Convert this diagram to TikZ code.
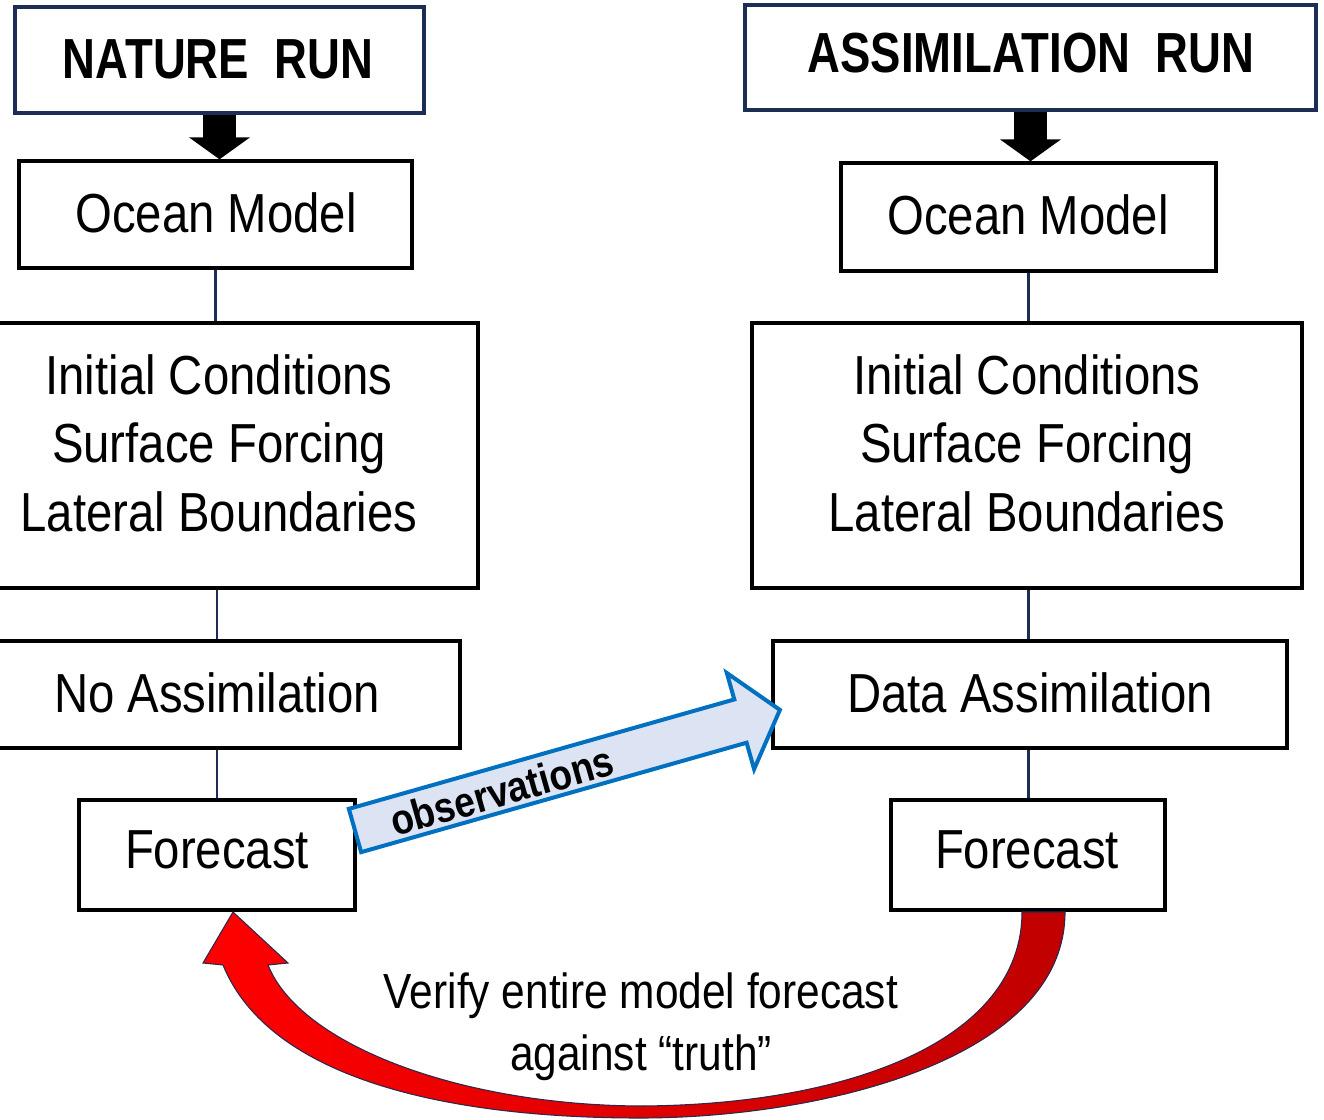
\documentclass[tikz,border=0pt]{standalone}
\usepackage{fontspec}
\setmainfont{Liberation Sans}
\newfontfamily\regf[FakeStretch=0.86]{Liberation Sans}
\newfontfamily\titlef[FakeStretch=0.805]{Liberation Sans}
\newfontfamily\obsf[FakeStretch=0.87]{Liberation Sans}
\newfontfamily\verf[FakeStretch=0.86]{Liberation Sans}
\usetikzlibrary{fit,arrows.meta}
\definecolor{navy}{RGB}{28,46,84}
\definecolor{bblue}{RGB}{0,112,192}
\definecolor{lblue}{RGB}{220,228,243}
\definecolor{rred}{RGB}{255,0,0}
\definecolor{dred}{RGB}{192,0,0}
\definecolor{outl}{RGB}{45,40,75}
\begin{document}
\begin{tikzpicture}[x=0.75pt,y=-0.75pt,
  titlebox/.style={draw=navy, line width=2.5pt, inner sep=0pt},
  box/.style={draw=black, line width=2.5pt, inner sep=0pt},
  link/.style={draw=navy, line width=1.7pt},
  bigarrow/.style={draw=black, line width=24.75pt, -{Triangle[width=45pt,length=16.5pt]}},
  txt/.style={font=\regf\fontsize{41.25}{51.4}\selectfont, align=center, inner sep=0pt},
  ttl/.style={font=\titlef\bfseries\fontsize{42.4}{50}\selectfont, inner sep=0pt},
  obs/.style={font=\obsf\bfseries\fontsize{31.9}{36}\selectfont, inner sep=0pt},
  ver/.style={font=\verf\fontsize{37}{46.5}\selectfont, align=center, inner sep=0pt}]
\useasboundingbox (0,0) rectangle (1324,1120);

% ---------- left column: nature run
\node[titlebox, fit={(15,7) (424,113)}] (nr) {};
\node[box, fit={(19,161) (412,268)}] (om1) {};
\node[box, fit={(-3,323) (478,588)}] (ic1) {};
\node[box, fit={(-3,641) (460,748)}] (na) {};
\node[box, fit={(79,800) (355,910)}] (fc1) {};

\node[ttl] (tnr) at (218,59) {NATURE\ \ RUN};
\node[txt] (tom1) at (216,212.5) {Ocean Model};
\node[txt] (tic1) at (219,443) {Initial Conditions\\Surface Forcing\\Lateral Boundaries};
\node[txt] (tna) at (217,693) {No Assimilation};
\node[txt] (tfc1) at (217,850) {Forecast};

\draw[bigarrow] (nr.south) -- (nr.south |- om1.north);
\draw[link] (om1.south) -- (om1.south |- ic1.north);
\draw[link] (fc1.north |- ic1.south) -- (fc1.north |- na.north);
\draw[link] (fc1.north |- na.south) -- (fc1.north);

% ---------- right column: assimilation run
\node[titlebox, fit={(745,5) (1316,110)}] (ar) {};
\node[box, fit={(841,163) (1216,271)}] (om2) {};
\node[box, fit={(752,323) (1302,588)}] (ic2) {};
\node[box, fit={(773,641) (1287,748)}] (da) {};
\node[box, fit={(891,800) (1165,910)}] (fc2) {};

\node[ttl] (tar) at (1031,53) {ASSIMILATION\ \ RUN};
\node[txt] (tom2) at (1028,215) {Ocean Model};
\node[txt] (tic2) at (1027,443) {Initial Conditions\\Surface Forcing\\Lateral Boundaries};
\node[txt] (tda) at (1030,693) {Data Assimilation};
\node[txt] (tfc2) at (1027,850) {Forecast};

\draw[bigarrow] (ar.south) -- (ar.south |- om2.north);
\draw[link] (om2.south) -- (om2.south |- ic2.north);
\draw[link] (om2.south |- ic2.south) -- (om2.south |- da.north);
\draw[link] (om2.south |- da.south) -- (om2.south |- fc2.north);

% ---------- observations arrow
\begin{scope}[shift={(355,830.5)}, rotate=15.85]
  \path[draw=bblue, line width=3pt, fill=lblue, line join=miter]
    (0,-22.5) -- (400.7,-22.5) -- (400.7,-50) -- (441.7,0) -- (400.7,50)
    -- (400.7,22.5) -- (0,22.5) -- cycle;
  \node[obs, rotate=15.85] (tobs) at (152,2) {observations};
\end{scope}

% ---------- verification arrow
\path[draw=outl, line width=0.8pt, left color=rred, right color=dred, line join=miter]
  (1065,912) .. controls (1065,1060) and (820,1118) .. (640,1118)
  .. controls (450,1118) and (270,1080) .. (223,965)
  -- (203,963) -- (233,912) -- (288,963) -- (268,965)
  .. controls (300,1045) and (460,1105) .. (640,1106)
  .. controls (850,1105) and (1022,1040) .. (1022,912) -- cycle;

\node[ver] (tver) at (641,1027) {Verify entire model forecast\\against “truth”};
\end{tikzpicture}
\end{document}
